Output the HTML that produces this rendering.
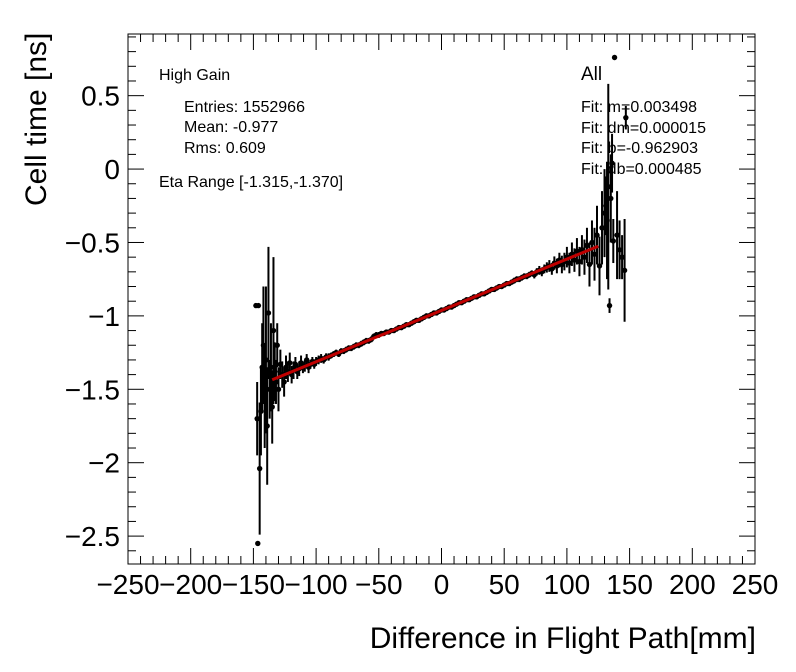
<!DOCTYPE html>
<html><head><meta charset="utf-8"><style>
body{margin:0;background:#fff;}
svg{display:block;font-family:"Liberation Sans",sans-serif;}
</style></head><body>
<svg id="chart" width="796" height="672" viewBox="0 0 796 672">
<rect x="0" y="0" width="796" height="672" fill="#fff"/>
<g id="axes"></g>
<g id="marks"></g>
<text x="46" y="206" font-size="30" transform="rotate(-90 46 206)" text-anchor="start">Cell time [ns]</text>
<text x="756" y="648" font-size="30" text-anchor="end">Difference in Flight Path[mm]</text>
<g font-size="16">
<text x="159" y="80">High Gain</text>
<text x="184" y="112">Entries: 1552966</text>
<text x="184" y="132">Mean: -0.977</text>
<text x="184" y="153">Rms: 0.609</text>
<text x="159" y="187">Eta Range [-1.315,-1.370]</text>
</g>
<g font-size="16">
<text x="581" y="80" font-size="19">All</text>
<text x="581" y="112">Fit: m=0.003498</text>
<text x="581" y="133">Fit: dm=0.000015</text>
<text x="581" y="153">Fit: b=-0.962903</text>
<text x="581" y="174">Fit: db=0.000485</text>
</g>
</svg>
<script>
const xTickLabels=[-250,-200,-150,-100,-50,0,50,100,150,200,250];
const yTickLabels=[0.5,0,-0.5,-1,-1.5,-2,-2.5];
const xVals=[-148,-146,-147,-146.5,-145,-144,-143,-142,-141,-140,-139,-138,-137,-136,-135,-134,-133,-132,-131,-130,-128.5,-127,-125.5,-124,-122.5,-121,-119.5,-118,-116.5,-115,-113.5,-112,-110.5,-109,-107.5,-106,-104.5,-103,-101.5,
-100,-98,-96,-94,-92,-90,-88,-86,-84,-82,-80,-78,-76,-74,-72,-70,-68,-66,-64,-62,-60,-58,-56,-54,-52,-50,-48,-46,-44,-42,-40,-38,-36,-34,-32,-30,-28,-26,-24,-22,-20,-18,-16,-14,-12,-10,-8,-6,-4,-2,0,2,4,6,8,10,12,14,16,18,20,22,24,26,28,30,32,34,36,38,40,42,44,46,48,50,52,54,56,58,60,62,64,66,68,70,72,74,76,78,80,
82,84,86,88,90,92,94,96,98,100,102,104,106,108,110,112,114,116,118,120,122,124,126,128,130,131,132,133,134,135,136,137,138,140,142,144,146,147];
const yVals=[-0.93,-0.93,-1.70,-2.55,-2.04,-1.65,-1.35,-1.20,-1.55,-1.30,-1.75,-0.98,-1.50,-1.35,-1.62,-1.10,-1.38,-1.45,-1.20,-1.50,-1.33,-1.40,-1.45,-1.35,-1.38,-1.32,-1.40,-1.37,-1.33,-1.38,-1.36,-1.32,-1.35,-1.34,-1.30,-1.35,-1.33,-1.31,-1.33,
-1.31,-1.30,-1.29,-1.30,-1.28,-1.28,-1.27,-1.26,-1.25,-1.26,-1.24,-1.24,-1.23,-1.22,-1.22,-1.21,-1.20,-1.20,-1.19,-1.18,-1.17,-1.17,-1.16,-1.14,-1.13,-1.13,-1.12,-1.12,-1.11,-1.11,-1.10,-1.10,-1.09,-1.08,-1.08,-1.07,-1.06,-1.06,-1.05,-1.04,-1.03,-1.03,-1.02,-1.01,-1.00,-1.00,-0.99,-0.98,-0.98,-0.97,-0.96,-0.96,-0.95,-0.94,-0.94,-0.93,-0.92,-0.91,-0.91,-0.90,-0.89,-0.89,-0.88,-0.87,-0.87,-0.86,-0.85,-0.85,-0.84,-0.83,-0.82,-0.82,-0.81,-0.80,-0.80,-0.79,-0.78,-0.78,-0.77,-0.76,-0.75,-0.75,-0.74,-0.73,-0.73,-0.72,-0.71,-0.72,-0.70,-0.69,-0.70,
-0.68,-0.67,-0.66,-0.68,-0.64,-0.66,-0.62,-0.65,-0.63,-0.60,-0.64,-0.58,-0.62,-0.56,-0.63,-0.55,-0.60,-0.52,-0.65,-0.50,-0.58,-0.45,-0.66,-0.40,-0.30,-0.25,-0.35,-0.12,-0.93,-0.20,0.04,-0.49,0.76,-0.45,-0.55,-0.60,-0.69,0.35];
const yErrs=[0.01,0.01,0.25,0.01,0.45,0.3,0.3,0.4,0.35,0.5,0.4,0.45,0.2,0.3,0.25,0.5,0.2,0.15,0.15,0.15,0.1,0.09,0.1,0.08,0.07,0.07,0.06,0.06,0.05,0.05,0.05,0.05,0.04,0.04,0.04,0.04,0.03,0.03,0.03,
0.03,0.03,0.03,0.025,0.025,0.025,0.02,0.02,0.02,0.02,0.02,0.02,0.02,0.02,0.02,0.02,0.02,0.02,0.02,0.02,0.02,0.02,0.02,0.02,0.02,0.02,0.015,0.015,0.015,0.015,0.015,0.015,0.015,0.015,0.015,0.015,0.015,0.015,0.015,0.015,0.015,0.015,0.015,0.015,0.015,0.015,0.015,0.015,0.015,0.015,0.015,0.015,0.015,0.015,0.015,0.015,0.015,0.015,0.015,0.015,0.015,0.015,0.015,0.015,0.015,0.015,0.015,0.015,0.015,0.015,0.015,0.015,0.015,0.015,0.015,0.015,0.015,0.015,0.015,0.02,0.02,0.02,0.02,0.02,0.02,0.02,0.02,0.025,0.025,0.03,0.03,
0.03,0.035,0.04,0.04,0.045,0.05,0.05,0.06,0.06,0.07,0.07,0.08,0.08,0.09,0.1,0.1,0.12,0.12,0.15,0.15,0.18,0.2,0.2,0.25,0.3,0.2,0.4,0.7,0.05,0.3,0.2,0.15,0.01,0.3,0.2,0.15,0.35,0.08];
const fitM=0.003498, fitB=-0.962903, fitRange=[-135,125];

const NS='http://www.w3.org/2000/svg';
const L=128,R=755,T=34,B=564;
const xMin=-250,xMax=250,yMin=-2.69,yMax=0.92;
function sx(v){return L+(v-xMin)/(xMax-xMin)*(R-L);}
function sy(v){return T+(yMax-v)/(yMax-yMin)*(B-T);}
function mk(tag,attrs,parent){const e=document.createElementNS(NS,tag);for(const k in attrs)e.setAttribute(k,attrs[k]);parent.appendChild(e);return e;}
const axes=document.getElementById('axes'),marks=document.getElementById('marks');
const frame=mk('rect',{x:L,y:T,width:R-L,height:B-T,fill:'none',stroke:'#000','stroke-width':1},axes);


for(let v=xMin;v<=xMax;v+=10){
  const major=(v%50===0);const len=major?16:8;const X=sx(v);
  const t1=mk('line',{x1:X,x2:X,y1:B,y2:B-len,stroke:'#000'},axes);
  
  
  const t2=mk('line',{x1:X,x2:X,y1:T,y2:T+len,stroke:'#000'},axes);
  
  
}
xTickLabels.forEach(v=>{
  const t=mk('text',{x:sx(v),y:594,'font-size':28,'text-anchor':'middle'},axes);
  t.textContent=v<0?'\u2212'+Math.abs(v):String(v);
  
  
});
for(let i=-26;i<=9;i++){
  const v=i/10;const major=(i%5===0);const len=major?16:8;const Y=sy(v);
  if(Y<T||Y>B)continue;
  const t1=mk('line',{x1:L,x2:L+len,y1:Y,y2:Y,stroke:'#000'},axes);
  
  
  const t2=mk('line',{x1:R,x2:R-len,y1:Y,y2:Y,stroke:'#000'},axes);
  
  
}
yTickLabels.forEach(v=>{
  const t=mk('text',{x:120,y:sy(v)+10,'font-size':28,'text-anchor':'end'},axes);
  t.textContent=v<0?'\u2212'+Math.abs(v):String(v);
  
  
});
xVals.forEach((xv,i)=>{
  const X=sx(xv),Y=sy(yVals[i]),e=yErrs[i];
  const bar=mk('line',{x1:X,x2:X,y1:sy(yVals[i]+e),y2:sy(yVals[i]-e),stroke:'#000','stroke-width':2},marks);
  
  
  const p=mk('circle',{cx:X,cy:Y,r:2.7,fill:'#000'},marks);
  
  
});
const fl=mk('line',{x1:sx(fitRange[0]),y1:sy(fitM*fitRange[0]+fitB),x2:sx(fitRange[1]),y2:sy(fitM*fitRange[1]+fitB),stroke:'#c00000','stroke-width':3},marks);


</script>
</body></html>
